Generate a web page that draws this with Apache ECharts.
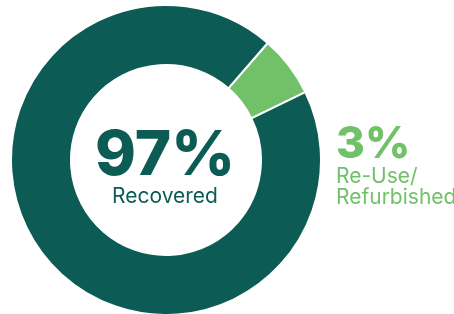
<!DOCTYPE html>
<html>
<head>
<meta charset="utf-8">
<script src="https://cdn.jsdelivr.net/npm/echarts@6/dist/echarts.min.js"></script>
<style>
  html, body { margin: 0; padding: 0; background: #fff; }
  #chart { width: 454px; height: 314px; }
</style>
</head>
<body>
<div id="chart"></div>
<script>
// 数据
const names = ['Re-Use/Refurbished', 'Recovered'];
const values = [3, 97];
const colors = ['#70c167', '#0c5c55'];

const myChart = echarts.init(document.getElementById('chart'));

myChart.setOption({
  animation: false,
  series: [
    {
      type: 'pie',
      center: [166, 160],
      radius: [95, 155],
      startAngle: 49,
      minAngle: 23,
      label: { show: false },
      labelLine: { show: false },
      itemStyle: { borderColor: '#fff', borderWidth: 2 },
      data: names.map((n, i) => ({ name: n, value: values[i], itemStyle: { color: colors[i] } }))
    }
  ],
  graphic: [
    {
      type: 'text', x: 165, y: 156,
      style: {
        text: values[1] + '%', fill: colors[1],
        font: '800 62px Inter', textAlign: 'center', textVerticalAlign: 'middle'
      }
    },
    {
      type: 'text', x: 165, y: 197,
      style: {
        text: 'Recovered', fill: colors[1],
        font: '400 21px Inter', textAlign: 'center', textVerticalAlign: 'middle'
      }
    },
    {
      type: 'text', x: 336, y: 145,
      style: {
        text: values[0] + '%', fill: colors[0],
        font: '800 44px Inter', textAlign: 'left', textVerticalAlign: 'middle'
      }
    },
    {
      type: 'text', x: 336, y: 166,
      style: {
        text: 'Re-Use/\nRefurbished', fill: colors[0],
        font: '400 21px Inter', lineHeight: 21, textAlign: 'left', textVerticalAlign: 'top'
      }
    }
  ]
});
</script>
</body>
</html>
